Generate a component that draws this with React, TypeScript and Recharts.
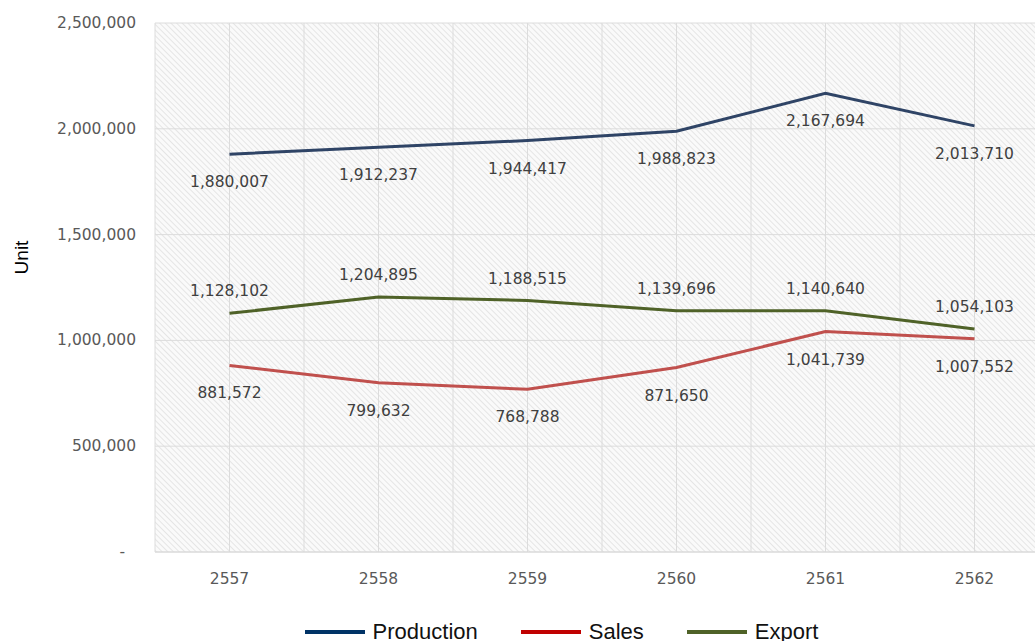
import React from "react";
import {
  LineChart,
  Line,
  XAxis,
  YAxis,
  CartesianGrid,
  LabelList,
  Legend,
} from "recharts";

// Thai Buddhist-era years
const years = ["2557", "2558", "2559", "2560", "2561", "2562"];
const production = [1880007, 1912237, 1944417, 1988823, 2167694, 2013710];
const sales = [881572, 799632, 768788, 871650, 1041739, 1007552];
const exportUnits = [1128102, 1204895, 1188515, 1139696, 1140640, 1054103];
const yTicks = [0, 500000, 1000000, 1500000, 2000000, 2500000];

const legendItems = [
  { name: "Production", color: "#003366" },
  { name: "Sales", color: "#c00000" },
  { name: "Export", color: "#4f6228" },
];

const data = years.map((year, i) => ({
  year,
  Production: production[i],
  Sales: sales[i],
  Export: exportUnits[i],
}));

const NUM_FONT = "'DejaVu Sans', sans-serif";
const NUM_SIZE = 15.5;
const fmt = (v: number) => v.toLocaleString("en-US");

const YTick = (props: any) => {
  const { x, y, payload } = props;
  const zero = payload.value === 0;
  return (
    <text
      x={zero ? x - 11 : x}
      y={y}
      dy={5}
      textAnchor="end"
      fill="#595959"
      fontSize={NUM_SIZE}
      fontFamily={NUM_FONT}
    >
      {zero ? "-" : fmt(payload.value)}
    </text>
  );
};

const UnitLabel = (props: any) => {
  const { viewBox } = props;
  const cx = 21;
  const cy = viewBox.y + viewBox.height / 2 - 30;
  return (
    <text
      x={cx}
      y={cy}
      transform={`rotate(-90 ${cx} ${cy})`}
      textAnchor="middle"
      dominantBaseline="central"
      fill="#000"
      fontSize={19}
      fontFamily="'Liberation Sans', Arial, sans-serif"
    >
      Unit
    </text>
  );
};

const LegendContent = () => (
  <div
    style={{
      display: "flex",
      justifyContent: "center",
      alignItems: "center",
      height: 40,
      paddingTop: 20,
      paddingLeft: 74,
      boxSizing: "border-box",
      fontFamily: "'Liberation Sans', Arial, sans-serif",
      fontSize: 22,
      color: "#111",
    }}
  >
    {legendItems.map((it, i) => (
      <div
        key={it.name}
        style={{ display: "flex", alignItems: "center", marginLeft: i === 0 ? 0 : 43 }}
      >
        <span
          style={{
            display: "inline-block",
            width: 60,
            height: 4,
            background: it.color,
            marginRight: 8,
          }}
        />
        <span>{it.name}</span>
      </div>
    ))}
  </div>
);

const labelStyle = { fill: "#404040", fontSize: NUM_SIZE, fontFamily: NUM_FONT };

export default function App() {
  return (
    <div
      style={{
        position: "absolute",
        left: 0,
        top: 0,
        width: 1035,
        height: 641,
        overflow: "hidden",
        background: "#fff",
      }}
    >
      <svg width={0} height={0} style={{ position: "absolute" }}>
        <defs>
          <pattern
            id="hatch"
            width={4}
            height={4}
            patternUnits="userSpaceOnUse"
            patternTransform="rotate(-45)"
          >
            <rect width={4} height={4} fill="#fafafa" />
            <line x1={0} y1={0} x2={0} y2={4} stroke="#d8d8d8" strokeWidth={1.2} />
          </pattern>
        </defs>
      </svg>
      <LineChart
        width={1049}
        height={660}
        data={data}
        margin={{ top: 23, right: 0, bottom: 18, left: 0 }}
      >
        <CartesianGrid
          fill="url(#hatch)"
          stroke="#dcdcdc"
          strokeWidth={1}
          verticalCoordinatesGenerator={({ offset }: any) =>
            Array.from({ length: 13 }, (_, i) => offset.left + (i * offset.width) / 12)
          }
        />
        <XAxis
          dataKey="year"
          scale="band"
          height={50}
          axisLine={{ stroke: "#d9d9d9" }}
          tickLine={false}
          tick={{ fill: "#595959", fontSize: NUM_SIZE, fontFamily: NUM_FONT }}
          tickMargin={15}
        />
        <YAxis
          width={155}
          domain={[0, 2500000]}
          ticks={yTicks}
          axisLine={false}
          tickLine={false}
          tick={<YTick />}
          tickMargin={13}
          label={<UnitLabel />}
        />
        <Legend verticalAlign="bottom" content={<LegendContent />} />
        <Line
          dataKey="Production"
          stroke="#2f4466"
          strokeWidth={3}
          dot={false}
          isAnimationActive={false}
        >
          <LabelList dataKey="Production" position="bottom" offset={22} formatter={fmt} style={labelStyle} />
        </Line>
        <Line
          dataKey="Sales"
          stroke="#c0504d"
          strokeWidth={3}
          dot={false}
          isAnimationActive={false}
        >
          <LabelList dataKey="Sales" position="bottom" offset={22} formatter={fmt} style={labelStyle} />
        </Line>
        <Line
          dataKey="Export"
          stroke="#4f6228"
          strokeWidth={3}
          dot={false}
          isAnimationActive={false}
        >
          <LabelList dataKey="Export" position="top" offset={17} formatter={fmt} style={labelStyle} />
        </Line>
      </LineChart>
    </div>
  );
}
